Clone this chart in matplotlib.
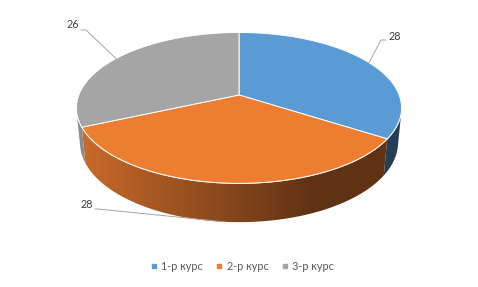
import numpy as np
import matplotlib.pyplot as plt
from matplotlib.patches import Polygon
from matplotlib.lines import Line2D
from matplotlib.colors import to_rgb

plt.rcParams['font.family'] = ['Lato', 'Noto Sans', 'DejaVu Sans']

# data
courses = ['1-р курс', '2-р курс', '3-р курс']
counts = [28, 28, 26]
colors = ['#5B9BD5', '#ED7D31', '#A5A5A5']

# camera for the tilted pie (pixel units)
cx, cy = 239, 95
d, h = 4.62, 2.375
L = np.hypot(d, h)
F = 832.0
thick = 0.245


def proj(x, y, z):
    # perspective projection of a point on/under the unit disc
    vy = y + d
    vz = z - h
    depth = (vy * d - vz * h) / L
    up = (vy * h + vz * d) / L
    return cx + F * x / depth, cy - F * up / depth


def side_gradient(c):
    # darker towards the right, like the office 3d lighting
    px = np.arange(478)
    s = np.clip((px - 80) / 235.0, 0, 1)
    k = 0.85 + (0.40 - 0.85) * s
    rgb = np.array(to_rgb(c))
    return (k[:, None] * rgb[None, :])[None, :, :]


fig = plt.figure(figsize=(4.78, 2.87), dpi=100)
ax = fig.add_axes([0, 0, 1, 1])
ax.set_xlim(0, 478)
ax.set_ylim(287, 0)
ax.axis('off')

total = float(sum(counts))
bounds = 90 - 360 * np.concatenate([[0], np.cumsum(counts)]) / total
lim = np.degrees(np.arcsin(1 / d))  # silhouette angle

# side walls first (only the part facing the camera)
for i in range(len(counts)):
    a0 = min(bounds[i], -lim)
    a1 = max(bounds[i + 1], -180 + lim)
    if a0 <= a1:
        continue
    ang = np.radians(np.linspace(a0, a1, 120))
    top = [proj(np.cos(t), np.sin(t), 0) for t in ang]
    bot = [proj(np.cos(t), np.sin(t), -thick) for t in ang[::-1]]
    poly = Polygon(top + bot, closed=True, facecolor='none', edgecolor='none')
    ax.add_patch(poly)
    im = ax.imshow(side_gradient(colors[i]), extent=(0, 478, 287, 0), aspect='auto',
                   interpolation='bilinear', zorder=1)
    im.set_clip_path(poly)
    ax.set_xlim(0, 478)
    ax.set_ylim(287, 0)

# rim highlight
ang = np.radians(np.linspace(-180 + lim, -lim, 200))
rim = [proj(np.cos(t), np.sin(t), 0) for t in ang]
ax.plot([q[0] for q in rim], [q[1] for q in rim], color='white', lw=0.8, alpha=0.9, zorder=2)

# top faces
for i in range(len(counts)):
    ang = np.radians(np.linspace(bounds[i], bounds[i + 1], 120))
    pts = [proj(0, 0, 0)] + [proj(np.cos(t), np.sin(t), 0) for t in ang]
    ax.add_patch(Polygon(pts, closed=True, facecolor=colors[i], edgecolor='white', lw=0.7, zorder=3))

# data labels with leader lines
label_pos = [(389, 36, 'left', 386, 40), (93, 205, 'right', 95, 209), (79, 25, 'right', 81, 30)]
elbow_len = [-5, 3, 5]
for i, (tx, ty, ha, lx, ly) in enumerate(label_pos):
    mid = np.radians((bounds[i] + bounds[i + 1]) / 2)
    z = 0 if np.sin(mid) > -1 / d else -thick
    axx, ayy = proj(np.cos(mid), np.sin(mid), z)
    ex = lx + elbow_len[i]
    ax.plot([lx, ex, axx], [ly, ly, ayy], color='#A6A6A6', lw=0.7, zorder=4)
    ax.text(tx, ty, str(counts[i]), ha=ha, va='center', fontsize=7.8, color='#404040')

handles = [Line2D([], [], marker='s', ls='none', color=c, markersize=3) for c in colors]
fig.legend(handles, courses, loc='center', bbox_to_anchor=(0.507, 0.073), ncol=3,
           frameon=False, fontsize=7.8, handlelength=0.6, handletextpad=0.4,
           columnspacing=1.2, labelcolor='#595959')

fig.savefig('out.png', dpi=100)
